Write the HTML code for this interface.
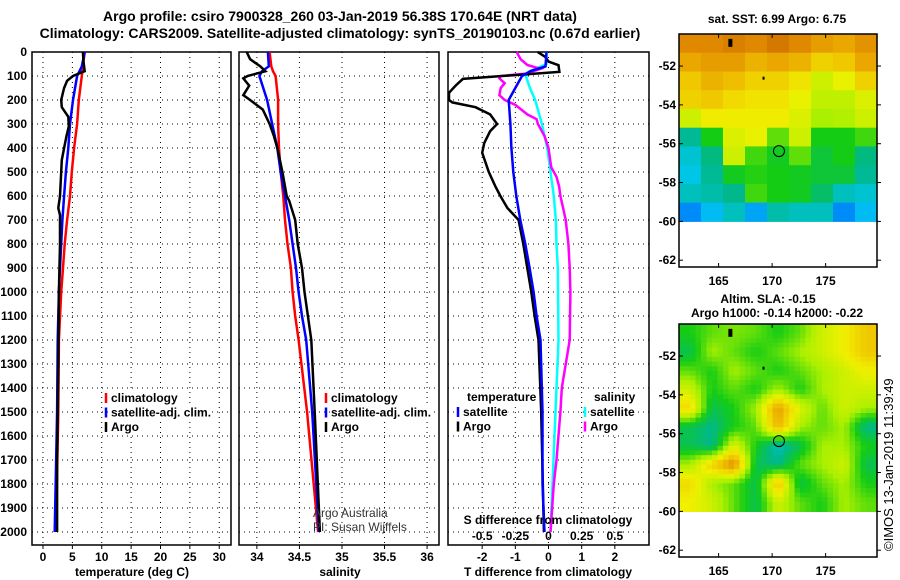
<!DOCTYPE html>
<html><head><meta charset="utf-8"><style>
html,body{margin:0;padding:0;background:#fff}
svg{display:block;font-family:"Liberation Sans",sans-serif}
.t{font-weight:bold;font-size:12px}
.h{font-weight:bold;font-size:14px}
</style></head><body>
<svg id="c" width="900" height="580" viewBox="0 0 900 580" xmlns="http://www.w3.org/2000/svg">
<text class="h" x="340" y="21" text-anchor="middle">Argo profile: csiro 7900328_260 03-Jan-2019 56.38S 170.64E (NRT data)</text>
<text class="h" x="340" y="38" text-anchor="middle">Climatology: CARS2009. Satellite-adjusted climatology: synTS_20190103.nc (0.67d earlier)</text>
<g id="g"></g>
</svg>
<script>
// ---- depth arrays ----
const tDepth=[0,40,60,80,100,120,150,200,230,270,310,350,400,450,500,600,650,680,800,1000,1300,1500,1700,2000];
const tArgo=[6.8,6.9,7.0,7.1,5.1,4.1,3.6,3.1,3.2,4.3,4.4,4.0,3.6,3.2,3.1,2.9,2.6,2.9,2.9,2.7,2.6,2.5,2.4,2.4];
const prDepth=[0,60,100,200,300,400,500,600,700,800,900,1000,1200,1500,2000];
const tSat=[7.1,6.6,5.8,5.1,4.6,4.3,3.9,3.6,3.3,3.1,2.9,2.7,2.5,2.4,2.0];
const tClim=[7.1,6.8,6.6,6.1,5.8,5.3,4.9,4.6,4.1,3.7,3.4,3.1,2.7,2.6,2.2];
const sDepth=[0,30,60,80,100,110,140,180,200,240,300,350,400,450,500,600,620,700,800,900,1000,1100,1200,1500,2000];
const sArgo=[33.88,33.92,34.04,34.1,33.89,33.84,33.91,33.84,33.92,34.07,34.15,34.2,34.24,34.27,34.3,34.35,34.38,34.45,34.48,34.53,34.56,34.6,34.64,34.68,34.74];
const s2Depth=[0,60,80,100,200,300,400,500,600,700,800,900,1000,1100,1200,1500,2000];
const sSat=[34.13,34.14,34.06,34.03,34.12,34.18,34.24,34.28,34.33,34.38,34.42,34.46,34.49,34.53,34.58,34.65,34.73];
const sClim=[34.15,34.17,34.19,34.22,34.25,34.25,34.26,34.28,34.31,34.33,34.36,34.4,34.42,34.45,34.49,34.59,34.72];
const dtArgoDepth=[0,20,40,55,83,112,140,170,200,210,230,260,300,330,380,420,500,560,600,650,700,800,900,1000,1100,1200,1500,2000];
const dtArgo=[-0.33,-0.1,0,0.3,0.33,-2.58,-2.8,-3.0,-3.0,-2.9,-2.2,-1.76,-1.55,-1.76,-1.94,-2.0,-1.8,-1.6,-1.45,-1.24,-0.9,-0.76,-0.64,-0.52,-0.42,-0.3,-0.22,-0.14];
const dtSatDepth=[0,60,80,100,150,200,300,400,500,600,700,800,900,1000,1100,1200,1500,1800,2000];
const dtSat=[-0.06,-0.09,-0.55,-0.8,-1.0,-1.2,-1.15,-1.12,-1.06,-0.97,-0.85,-0.7,-0.57,-0.45,-0.36,-0.24,-0.18,-0.18,-0.12];
const dsArgoDepth=[0,30,54,70,90,100,110,130,150,180,200,220,260,280,300,350,400,480,520,560,600,650,700,800,900,1000,1200,1400,1500,1700,1800,2000];
const dsArgo=[-0.24,-0.21,-0.16,-0.06,-0.17,-0.36,-0.37,-0.33,-0.36,-0.37,-0.33,-0.25,-0.16,-0.09,-0.08,-0.03,0,0.02,0.06,0.08,0.09,0.11,0.13,0.15,0.16,0.165,0.16,0.1,0.09,0.06,0.04,0.015];
const dsSatDepth=[0,50,80,100,150,200,300,400,500,600,700,800,900,1200,1400,1600,1800,2000];
const dsSat=[-0.015,-0.015,-0.14,-0.17,-0.14,-0.1,-0.05,-0.01,0.015,0.04,0.055,0.06,0.07,0.075,0.06,0.045,0.03,0.015];
const depthTicks=[0,100,200,300,400,500,600,700,800,900,1000,1100,1200,1300,1400,1500,1600,1700,1800,1900,2000];
const tTicks=[0,5,10,15,20,25,30];
const sTicks=[34,34.5,35,35.5,36];
const dtTicks=[-2,-1,0,1,2];
const dsTicks=[-0.5,-0.25,0,0.25,0.5];
const dsTickLabels=["-0.5","-0.25","0","0.25","0.5"];
// ---- maps ----
const sstGrid=[
[0.86,0.86,0.88,0.86,0.9,0.86,0.82,0.8,0.84],
[0.8,0.82,0.82,0.78,0.8,0.78,0.72,0.74,0.8],
[0.74,0.78,0.76,0.72,0.72,0.68,0.6,0.64,0.72],
[0.72,0.74,0.7,0.68,0.68,0.64,0.58,0.58,0.62],
[0.6,0.66,0.66,0.66,0.66,0.62,0.55,0.56,0.6],
[0.34,0.45,0.62,0.64,0.5,0.6,0.45,0.45,0.48],
[0.28,0.36,0.6,0.48,0.44,0.5,0.42,0.45,0.36],
[0.26,0.34,0.44,0.46,0.45,0.44,0.42,0.42,0.34],
[0.3,0.32,0.35,0.48,0.45,0.44,0.38,0.3,0.28],
[0.2,0.24,0.3,0.22,0.32,0.3,0.3,0.2,0.24]];
const slaGrid=[
[0.45,0.5,0.52,0.5,0.45,0.5,0.6,0.65,0.74],
[0.4,0.55,0.5,0.45,0.5,0.55,0.6,0.65,0.74],
[0.5,0.45,0.55,0.5,0.45,0.5,0.55,0.6,0.65],
[0.6,0.45,0.5,0.45,0.55,0.45,0.55,0.6,0.6],
[0.7,0.4,0.45,0.55,0.82,0.62,0.5,0.6,0.55],
[0.4,0.35,0.45,0.5,0.78,0.55,0.5,0.55,0.35],
[0.4,0.35,0.62,0.45,0.3,0.4,0.55,0.55,0.45],
[0.55,0.72,0.86,0.4,0.35,0.5,0.55,0.6,0.4],
[0.7,0.55,0.5,0.4,0.76,0.4,0.5,0.55,0.45],
[0.65,0.6,0.5,0.4,0.6,0.5,0.45,0.55,0.5]];
const lonTicks=[165,170,175];
const latTicks=[-52,-54,-56,-58,-60,-62];
const argoLon=170.64, argoLat=-56.38;

const NS="http://www.w3.org/2000/svg";
const G=document.getElementById('g');
function mk(tag,at,parent){const e=document.createElementNS(NS,tag);for(const k in at)e.setAttribute(k,at[k]);(parent||G).appendChild(e);return e;}
function txt(x,y,s,cls,anchor,parent){const e=mk('text',{x:x,y:y,'text-anchor':anchor||'middle'},parent);if(cls)e.setAttribute('class',cls);e.textContent=s;return e;}

const Y0=52, DY=0.24, PB=545;
const yD=d=>Y0+d*DY;
const panels=[
 {x0:32,x1:231,v0:-1.87,v1:32.0,name:'temperature-panel'},
 {x0:239,x1:439,v0:33.79,v1:36.14,name:'salinity-panel'},
 {x0:448,x1:649,v0:-3.03,v1:3.03,name:'difference-panel'}];
const xs=(p,v)=>p.x0+(v-p.v0)/(p.v1-p.v0)*(p.x1-p.x0);
const dsX=v=>xs(panels[2],v*4);

function line(p,depths,vals,color,name,fx){
 const pts=[];
 for(let i=0;i<vals.length;i++){let x=fx?fx(vals[i]):xs(p,vals[i]);x=Math.max(p.x0,Math.min(p.x1,x));pts.push(x.toFixed(1)+','+yD(depths[i]).toFixed(1));}
 const e=mk('polyline',{points:pts.join(' '),fill:'none',stroke:color,'stroke-width':2.5,'stroke-linejoin':'miter'});
 
 
}

function frame(p,ticks,labels){
 const g=mk('g',{});
 
 
 for(const d of depthTicks){ if(d===0)continue; mk('line',{x1:p.x0,x2:p.x1,y1:yD(d),y2:yD(d),stroke:'#000','stroke-width':1,'stroke-dasharray':'1,4'},g);}
 ticks.forEach((t,i)=>{const x=xs(p,t);
  if(x>p.x0+2&&x<p.x1-2) mk('line',{x1:x,x2:x,y1:Y0,y2:PB,stroke:'#000','stroke-width':1,'stroke-dasharray':'1,4'},g);
  mk('line',{x1:x,x2:x,y1:PB,y2:PB+4,stroke:'#000'},g);
  const tl=txt(x,PB+16,labels?labels[i]:String(t),'t','middle',g);
  
  
 });
 mk('rect',{x:p.x0,y:Y0,width:p.x1-p.x0,height:PB-Y0,fill:'none',stroke:'#000','stroke-width':1.5},g);
}
frame(panels[0],tTicks);
frame(panels[1],sTicks);
frame(panels[2],dtTicks);
for(const d of depthTicks){const l=txt(27,yD(d)+4,String(d),'t','end');
 
 }

// panel lines
line(panels[0],prDepth,tClim,'#f00','temp-climatology-line');
line(panels[0],prDepth,tSat,'#00f','temp-satellite-line');
line(panels[0],tDepth,tArgo,'#000','temp-argo-line');
line(panels[1],s2Depth,sClim,'#f00','sal-climatology-line');
line(panels[1],s2Depth,sSat,'#00f','sal-satellite-line');
line(panels[1],sDepth,sArgo,'#000','sal-argo-line');
line(panels[2],dsSatDepth,dsSat,'#0ff','sdiff-satellite-line',dsX);
line(panels[2],dsArgoDepth,dsArgo,'#f0f','sdiff-argo-line',dsX);
line(panels[2],dtArgoDepth,dtArgo,'#000','tdiff-argo-line');
line(panels[2],dtSatDepth,dtSat,'#00f','tdiff-satellite-line');

// x axis titles
[[132,'temperature (deg C)','x-axis-title-temperature'],[340,'salinity','x-axis-title-salinity'],[548,'T difference from climatology','x-axis-title-tdiff']].forEach(a=>{
 const e=txt(a[0],576,a[1],'t','middle');});
const sdt=txt(548,524,'S difference from climatology','t','middle');

dsTicks.forEach((v,i)=>{
 const l=txt(dsX(v),540,dsTickLabels[i],'t','middle');
 });

// legends
function boxedText(x,y,s,parent){
 const r=mk('rect',{x:x-1,y:y-10,width:10,height:13,fill:'#fff'},parent);
 const t=txt(x,y,s,'t','start',parent);
 let w=s.length*5.8; try{w=t.getComputedTextLength();}catch(e){}
 r.setAttribute('width',(w+2).toFixed(1));
 return t;
}
function legend(x,y,entries,name){
 const g=mk('g',{});
 
 
 entries.forEach((en,i)=>{const yy=y+i*14.5;
  if(en[1]) mk('line',{x1:x,x2:x,y1:yy-9,y2:yy+1,stroke:en[1],'stroke-width':2.5},g);
  const t=boxedText(x+5,yy,en[0],g);
  });
}
legend(106,402,[['climatology','#f00'],['satellite-adj. clim.','#00f'],['Argo','#000']],'temp-legend');
legend(326,402,[['climatology','#f00'],['satellite-adj. clim.','#00f'],['Argo','#000']],'sal-legend');
legend(458,416,[['satellite','#00f'],['Argo','#000']],'tdiff-legend');
legend(585,416,[['satellite','#0ff'],['Argo','#f0f']],'sdiff-legend');
const lt=boxedText(467,401,'temperature',G);
const ls=boxedText(594,401,'salinity',G);
const a1=txt(313,517,'Argo Australia','','start');a1.setAttribute('font-size','12');a1.setAttribute('fill','#333');

const a2=txt(313,531,'PI: Susan Wijffels','','start');a2.setAttribute('font-size','12');a2.setAttribute('fill','#333');


// colormap
const cm=[[0,[0,0,150]],[0.15,[0,80,255]],[0.25,[0,200,240]],[0.35,[0,184,140]],[0.45,[20,204,20]],[0.55,[170,240,0]],[0.65,[240,240,0]],[0.75,[240,195,0]],[0.85,[225,140,0]],[1,[190,80,0]]];
function col(v){for(let i=1;i<cm.length;i++){if(v<=cm[i][0]){const a=cm[i-1],b=cm[i],f=(v-a[0])/(b[0]-a[0]);return 'rgb('+a[1].map((c,k)=>Math.round(c+(b[1][k]-c)*f)).join(',')+')';}}return 'rgb(190,80,0)';}

function map(by,grid,name,sub){
 const bx0=679,bx1=877,byb=by+233;
 const lon0=161.3,lon1=179.8,latTop=-50.35,latBot=-62.35;
 const mx=l=>bx0+(l-lon0)/(lon1-lon0)*(bx1-bx0);
 const my=l=>by+(latTop-l)/(latTop-latBot)*(byb-by);
 const g=mk('g',{});
 
 
 const rows=grid.length,cols=grid[0].length;
 const R=rows*sub,C=cols*sub;
 const dLat=(latTop-(-60))/R,dLon=(lon1-lon0)/C;
 const val=(fr,fc)=>{
  const r=Math.max(0,Math.min(rows-1,fr-0.5)),c=Math.max(0,Math.min(cols-1,fc-0.5));
  const r0=Math.floor(r),c0=Math.floor(c),r1=Math.min(rows-1,r0+1),c1=Math.min(cols-1,c0+1),a=r-r0,b=c-c0;
  return grid[r0][c0]*(1-a)*(1-b)+grid[r0][c1]*(1-a)*b+grid[r1][c0]*a*(1-b)+grid[r1][c1]*a*b;};
 for(let r=0;r<R;r++)for(let c=0;c<C;c++){
  const x=mx(lon0+c*dLon),y=my(latTop-r*dLat);
  const v=sub===1?grid[r][c]:val((r+0.5)/sub,(c+0.5)/sub);
  const cell=mk('rect',{x:x.toFixed(1),y:y.toFixed(1),width:(mx(lon0+(c+1)*dLon)-x+0.6).toFixed(1),height:(my(latTop-(r+1)*dLat)-y+0.6).toFixed(1),fill:col(v)},g);
  
  
 }
 mk('rect',{x:bx0,y:by,width:bx1-bx0,height:byb-by,fill:'none',stroke:'#000','stroke-width':1.5},g);
 lonTicks.forEach(l=>{mk('line',{x1:mx(l),x2:mx(l),y1:byb,y2:byb-4,stroke:'#000'},g);mk('line',{x1:mx(l),x2:mx(l),y1:by,y2:by+4,stroke:'#000'},g);
  const t=txt(mx(l),byb+18,String(l),'t','middle',g);});
 latTicks.forEach(l=>{mk('line',{x1:bx0,x2:bx0+4,y1:my(l),y2:my(l),stroke:'#000'},g);mk('line',{x1:bx1,x2:bx1+4,y1:my(l),y2:my(l),stroke:'#000'},g);
  const t=txt(676,my(l)+4,String(l),'t','end',g);});
 const c=mk('circle',{cx:mx(argoLon),cy:my(argoLat),r:5.5,fill:'none',stroke:'#000','stroke-width':1},g);
 
 mk('rect',{x:mx(166.1)-2,y:my(-50.6),width:4,height:8,fill:'#000'},g);
 mk('rect',{x:mx(169.2)-1,y:my(-52.6)-1,width:2,height:3,fill:'#000'},g);
}
map(34,sstGrid,'sst-map',1);
map(324,slaGrid,'sla-map',4);
const m1=txt(777,23,'sat. SST: 6.99 Argo: 6.75','t','middle');
const m2=txt(768,303,'Altim. SLA: -0.15','t','middle');
const m3=txt(777,317,'Argo h1000: -0.14 h2000: -0.22','t','middle');
const cr=txt(0,0,'©IMOS 13-Jan-2019 11:39:49','','start');
cr.setAttribute('font-size','13');cr.setAttribute('transform','translate(893,551) rotate(-90)');

</script>
</body></html>
